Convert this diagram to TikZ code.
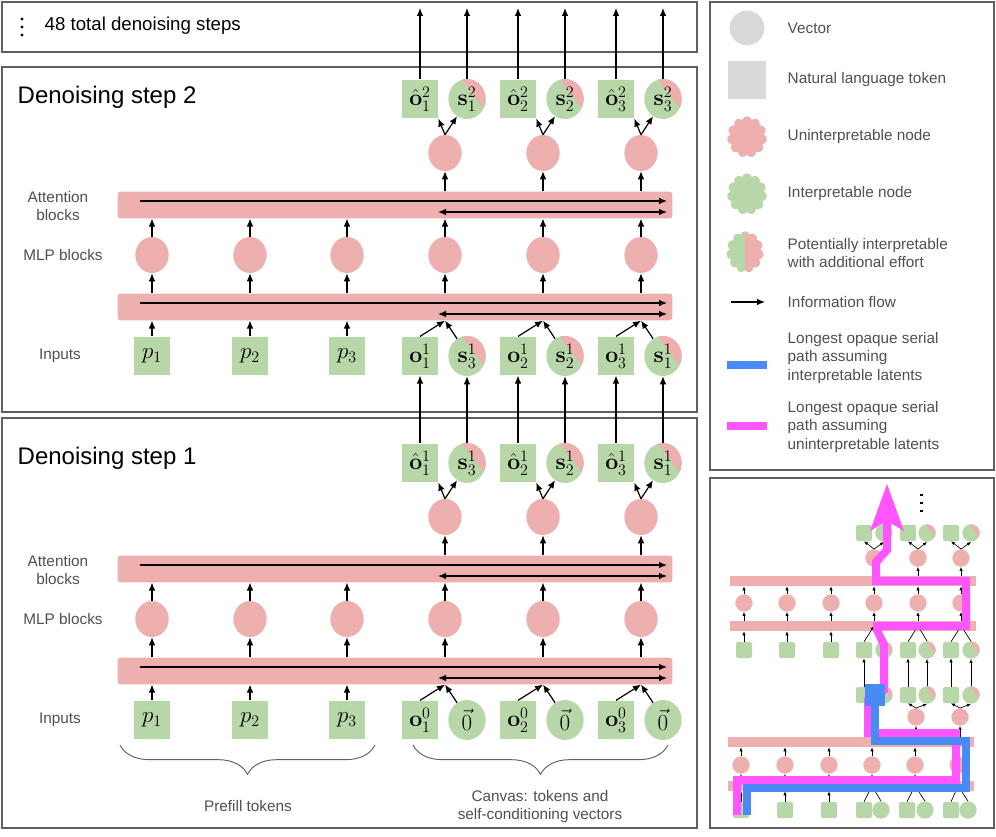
\documentclass[tikz,border=0pt]{standalone}
\usepackage[no-math]{fontspec}
\setmainfont{Liberation Sans}
\usetikzlibrary{shapes.geometric,shapes.symbols,decorations.pathreplacing,calc,arrows.meta}
\definecolor{gr}{HTML}{B7D7A8}
\definecolor{pk}{HTML}{EDB0AF}
\definecolor{lg}{HTML}{D9D9D9}
\definecolor{bl}{HTML}{4A8AF4}
\definecolor{mg}{HTML}{FF55FF}
\definecolor{tx}{HTML}{505050}
\definecolor{fr}{HTML}{606060}
\tikzset{
 sq/.style={fill=gr,minimum width=27pt,minimum height=29pt,inner sep=0pt,font=\fontsize{18}{20}\selectfont},
 vec/.style={ellipse,fill=gr,minimum width=28pt,minimum height=30pt,inner sep=0pt,font=\fontsize{18}{20}\selectfont},
 svec/.style={vec,path picture={\fill[pk] ($(path picture bounding box.north)+(-4pt,0)$) -- (path picture bounding box.north east) -- ($(path picture bounding box.east)+(0,-9pt)$) -- cycle;}},
 pc/.style={ellipse,fill=pk,minimum width=25pt,minimum height=27pt,inner sep=0pt},
 bar/.style={fill=pk,rounded corners=2pt,inner sep=0pt,minimum width=416pt,minimum height=20pt},
 arr/.style={-{Latex[length=6pt,width=5pt]},line width=0.9pt},
 darr/.style={{Latex[length=6pt,width=5pt]}-{Latex[length=6pt,width=5pt]},line width=0.9pt},
 rowlab/.style={text=tx,font=\fontsize{11.5}{13.5}\selectfont,align=center},
 frame/.style={draw=fr,line width=0.8pt},
 leg/.style={text=tx,font=\fontsize{11.5}{14}\selectfont,align=left,anchor=west},
 msq/.style={fill=gr,minimum size=12pt,inner sep=0pt,rounded corners=1.5pt},
 mvec/.style={circle,fill=gr,minimum size=13pt,inner sep=0pt},
 msvec/.style={mvec,path picture={\fill[pk] ($(path picture bounding box.north)+(-1pt,0)$) -- (path picture bounding box.north east) -- ($(path picture bounding box.east)+(0,-4pt)$) -- cycle;}},
 mpc/.style={circle,fill=pk,minimum size=13pt,inner sep=0pt},
 mbar/.style={fill=pk,inner sep=0pt,minimum width=185pt,minimum height=7.5pt},
 marr/.style={-{Latex[length=3pt,width=2.5pt]},line width=0.5pt},
}
\newcommand{\mystruct}[2]{%
 \node[bar] (#1-b1) at (395,{569+#2}) {};
 \node[bar] (#1-b2) at (395,{671+#2}) {};
 \draw[arr] (140,{565+#2}) -- (667,{565+#2});
 \draw[darr] (438,{576+#2}) -- (667,{576+#2});
 \draw[arr] (140,{667+#2}) -- (667,{667+#2});
 \draw[darr] (438,{678+#2}) -- (667,{678+#2});
 \node[rowlab] at (58,{570+#2}) {Attention\\blocks};
 \node[rowlab] at (63,{619+#2}) {MLP blocks};
 \node[rowlab] at (60,{720+#2}) {Inputs};
 \foreach \i/\x in {1/152,2/250,3/347,4/445,5/543,6/641}{
   \node[pc] (#1-m-\i) at (\x,{619+#2}) {};
   \draw[arr] (#1-m-\i |- #1-b2.north) -- (#1-m-\i.south);
   \draw[arr] (#1-m-\i.north) -- (#1-m-\i |- #1-b1.south);
 }
 \foreach \j/\x in {1/445,2/543,3/641}{
   \node[pc] (#1-c-\j) at (\x,{517+#2}) {};
   \draw[arr] (#1-c-\j |- #1-b1.north) -- (#1-c-\j.south);
 }
}
\begin{document}
\begin{tikzpicture}[x=0.75pt,y=-0.75pt]
\useasboundingbox (0,0) rectangle (996,837);
\fill[white] (0,0) rectangle (996,837);
% frames
\draw[frame] (2,2) rectangle (697,52);
\draw[frame] (2,67) rectangle (697,412);
\draw[frame] (2,418) rectangle (697,828);
\draw[frame] (710,2) rectangle (994,470);
\draw[frame] (710,478) rectangle (994,828);
\coordinate (top) at (0,8);
% top box
\foreach \yy in {19,27,35} \fill (22,\yy) circle (1.3pt);
\node[anchor=west,font=\fontsize{14}{16}\selectfont] at (40,26) {48 total denoising steps};
\node[anchor=west,font=\fontsize{18}{21}\selectfont] at (13,97) {Denoising step 2};
\node[anchor=west,font=\fontsize{18}{21}\selectfont] at (13,458) {Denoising step 1};
% structures
\mystruct{A}{0}
\mystruct{B}{-364}
% step 1 inputs
\foreach \i/\x in {1/152,2/250,3/347}{
 \node[sq] (A-p-\i) at (\x,720) {$p_{\i}$};
 \draw[arr] (A-p-\i.north) -- (A-p-\i |- A-b2.south);
 \node[sq] (B-p-\i) at (\x,356) {$p_{\i}$};
 \draw[arr] (B-p-\i.north) -- (B-p-\i |- B-b2.south);
}
\foreach \j/\x/\s in {1/445/3,2/543/2,3/641/1}{
 \node[sq] (A-o-\j) at ({\x-25},720) {$\mathbf{o}^0_{\j}$};
 \node[vec] (A-s-\j) at ({\x+22},720) {$\vec{0}$};
 \node[sq] (A-oh-\j) at ({\x-25},463) {$\hat{\mathbf{o}}^1_{\j}$};
 \node[svec] (A-sh-\j) at ({\x+22},463) {$\mathbf{s}^1_{\s}$};
 \node[sq] (B-o-\j) at ({\x-25},356) {$\mathbf{o}^1_{\j}$};
 \node[svec] (B-s-\j) at ({\x+22},356) {$\mathbf{s}^1_{\s}$};
 \node[sq] (B-oh-\j) at ({\x-25},99) {$\hat{\mathbf{o}}^2_{\j}$};
 \node[svec] (B-sh-\j) at ({\x+22},99) {$\mathbf{s}^2_{\j}$};
 \foreach \P in {A,B}{
  \draw[arr] (\P-o-\j.north) -- (\P-m-\the\numexpr\j+3\relax |- \P-b2.south);
  \draw[arr] (\P-s-\j.120) -- (\P-m-\the\numexpr\j+3\relax |- \P-b2.south);
  \draw[arr] (\P-c-\j.north) -- (\P-oh-\j.south east);
  \draw[arr] (\P-c-\j.north) -- (\P-sh-\j.240);
 }
 \draw[arr] (A-oh-\j.north) -- (B-o-\j.south);
 \draw[arr] (A-sh-\j.north) -- (B-s-\j.south);
 \draw[arr] (B-oh-\j.north) -- (B-oh-\j |- top);
 \draw[arr] (B-sh-\j.north) -- (B-sh-\j |- top);
}
% braces
\draw[decorate,decoration={brace,mirror,amplitude=22pt},draw=fr,line width=0.7pt] (120,745) -- (375,745);
\draw[decorate,decoration={brace,mirror,amplitude=22pt},draw=fr,line width=0.7pt] (413,745) -- (668,745);
\node[rowlab] at (248,806) {Prefill tokens};
\node[rowlab] at (540,807) {Canvas: tokens and\\self-conditioning vectors};
% legend
\node[circle,fill=lg,minimum size=26pt] (l1) at (747,28) {};
\node[leg] at (783,28) {Vector};
\node[fill=lg,minimum size=28pt] (l2) at (747,80) {};
\node[leg] at (783,80) {Natural language token};
\node[cloud,cloud puffs=11,aspect=1,fill=pk,minimum width=30pt,minimum height=31pt,inner sep=0pt] (l3) at (747,137) {};
\node[leg] at (783,137) {Uninterpretable node};
\node[cloud,cloud puffs=11,aspect=1,fill=gr,minimum width=30pt,minimum height=31pt,inner sep=0pt] (l4) at (747,194) {};
\node[leg] at (783,194) {Interpretable node};
\node[cloud,cloud puffs=11,aspect=0.9,fill=gr,minimum width=28pt,minimum height=31pt,inner sep=0pt,
  path picture={\fill[pk] (path picture bounding box.north) rectangle (path picture bounding box.south east);}] (l5) at (745,252) {};
\node[leg] at (783,253) {Potentially interpretable\\with additional effort};
\coordinate (l6a) at (731,302); \coordinate (l6b) at (765,302);
\draw[arr] (l6a) -- (l6b);
\node[leg] at (783,302) {Information flow};
\fill[bl] (727,361) rectangle (767,369);
\node[leg] at (783,358) {Longest opaque serial\\path assuming\\interpretable latents};
\fill[mg] (727,422) rectangle (767,430);
\node[leg] at (783,427) {Longest opaque serial\\path assuming\\uninterpretable latents};
% inset
\node[mbar] (mb1) at (853,581) {};
\node[mbar] (mb2) at (853,626) {};
\node[mbar] (mb3) at (851,742) {};
\node[mbar] (mb4) at (851,786) {};
\foreach \i/\x in {1/744,2/787,3/831,4/874,5/918,6/961}{
 \node[mpc] (mr\i) at (\x,603) {};
 \draw[marr] (mr\i |- mb2.north) -- (mr\i.south);
 \draw[marr] (mr\i.north) -- (mr\i |- mb1.south);
}
\foreach \i/\x in {1/741,2/785,3/829,4/872,5/915,6/958}{
 \node[mpc] (ms\i) at (\x,765) {};
 \draw[marr] (ms\i |- mb4.north) -- (ms\i.south);
 \draw[marr] (ms\i.north) -- (ms\i |- mb3.south);
}
\foreach \i/\x in {1/744,2/787,3/831}{
 \node[msq] (mq\i) at (\x,650) {};
 \draw[marr] (mq\i.north) -- (mq\i |- mb2.south);
}
\foreach \i/\x in {1/741,2/785,3/829}{
 \node[msq] (mz\i) at (\x,810) {};
 \draw[marr] (mz\i.north) -- (mz\i |- mb4.south);
}
\foreach \j/\a/\b/\c in {1/864/884/874,2/908/927/918,3/951/971/961}{
 \node[msq] (mo\j) at (\a,650) {};
 \node[msvec] (ms2\j) at (\b,650) {};
 \draw[marr] (mo\j.north) -- (\c,626);
 \draw[marr] (ms2\j.north) -- (\c,626);
 \node[msq] (mt\j) at (\a,533) {};
 \node[msvec] (mts\j) at (\b,533) {};
 \node[mpc] (mtc\j) at (\c,558) {};
 \draw[marr] (mtc\j |- mb1.north) -- (mtc\j.south);
 \draw[marr] (mtc\j.north) -- (mt\j.south);
 \draw[marr] (mtc\j.north) -- (mts\j.south);
}
\foreach \j/\a/\b/\c in {1/864/884/872,2/908/927/916,3/951/971/960}{
 \node[msq] (mp\j) at (\a,695) {};
 \node[msvec] (mps\j) at (\b,695) {};
 \draw[marr] (mp\j.north) -- (mo\j.south);
 \draw[marr] (mps\j.north) -- (ms2\j.south);
}
\foreach \j/\c in {2/916,3/960}{
 \node[mpc] (mpc\j) at (\c,717) {};
 \draw[marr] (mpc\j |- mb3.north) -- (mpc\j.south);
 \draw[marr] (mpc\j.north) -- (mp\j.south);
 \draw[marr] (mpc\j.north) -- (mps\j.south);
}
\foreach \j/\a/\b/\c in {1/864/881/872,2/907/925/915,3/951/968/958}{
 \node[msq] (mb\j q) at (\a,810) {};
 \node[mvec] (mb\j v) at (\b,810) {};
 \draw[marr] (mb\j q.north) -- (\c,786);
 \draw[marr] (mb\j v.north) -- (\c,786);
}
\foreach \yy in {494,502,510} \fill (920,\yy) rectangle ++(2.5,2.5);
% paths
\draw[mg,line width=6pt,line join=miter] (737,815) -- (737,780) -- (956,780) -- (956,733) -- (868,733) -- (868,700) -- (884,690) -- (884,645) -- (877,630) -- (877,626) -- (966,626) -- (966,581) -- (876,581) -- (876,562) -- (887,550) -- (887,515);
\fill[mg] (887,484) -- (904,531) -- (887,521) -- (870,531) -- cycle;
\draw[bl,line width=6pt,line join=miter] (747,815) -- (747,788) -- (966,788) -- (966,741) -- (875,741) -- (875,700);
\fill[bl] (865,684) rectangle (885,706);
\end{tikzpicture}
\end{document}
